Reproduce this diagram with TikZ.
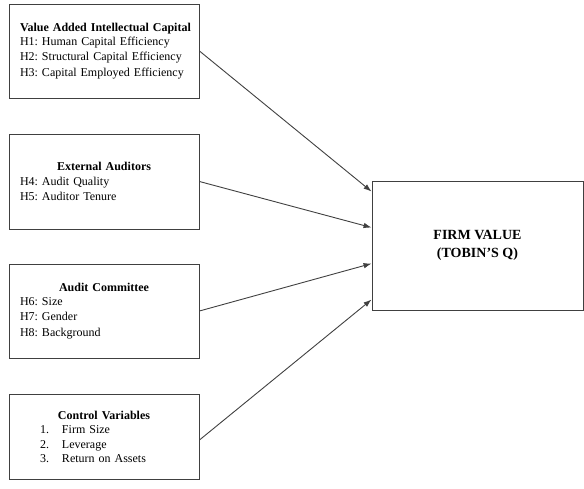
\documentclass[tikz,border=0pt]{standalone}
\usepackage{fontspec}
\setmainfont{Liberation Serif}
\usepackage{tikz}
\usetikzlibrary{shapes, arrows, arrows.meta}
\frenchspacing

\begin{document}
\begin{tikzpicture}[
    x=1pt, y=-1pt,
    boxLine/.style={draw=black!75, line width=0.9pt},
    leftBox/.style={boxLine, text width=168pt, inner xsep=11pt, align=left,
        font=\fontsize{12}{14.3}\selectfont},
    every node/.style={
        text centered,
        }
        ]
    \useasboundingbox (0, 0) rectangle (584, 489);

    \node[leftBox, minimum height=94pt] (vaic) at (104, 51) {\mbox{\textbf{Value Added Intellectual Capital}}\\
        H1: Human Capital Efficiency\\
        H2: Structural Capital Efficiency\\[2pt]
        H3: Capital Employed Efficiency};
    \node[leftBox, minimum height=95pt] (auditors) at (104, 181.5) {{\centering\textbf{External Auditors}\par}
        H4: Audit Quality\\[1pt]
        H5: Auditor Tenure};
    \node[leftBox, minimum height=94pt] (committee) at (104, 311) {{\centering\textbf{Audit Committee}\par}
        H6: Size\\
        H7: Gender\\[2pt]
        H8: Background};
    \node[leftBox, minimum height=85pt] (control) at (104, 437) {{\centering\textbf{Control Variables}\par}
        \hspace*{20pt}\makebox[22pt][l]{1.}Firm Size\\
        \hspace*{20pt}\makebox[22pt][l]{2.}Leverage\\
        \hspace*{20pt}\makebox[22pt][l]{3.}Return on Assets};

    \node[boxLine, minimum width=211pt, minimum height=129pt, align=center,
        font=\fontsize{14}{18}\selectfont\bfseries] (firm) at (477.5, 245.5) {FIRM VALUE\\(TOBIN'S Q)};

    \coordinate (in1) at ([yshift=-11pt]firm.north west);
    \coordinate (in2) at ([yshift=-47pt]firm.north west);
    \coordinate (in3) at ([yshift=-83pt]firm.north west);
    \coordinate (in4) at ([yshift=-119pt]firm.north west);

    \draw[->, >={Latex[length=8pt, width=5.5pt]}, draw=black!75, line width=0.9pt] (vaic.east) -- (in1);
    \draw[->, >={Latex[length=8pt, width=5.5pt]}, draw=black!75, line width=0.9pt] (auditors.east) -- (in2);
    \draw[->, >={Latex[length=8pt, width=5.5pt]}, draw=black!75, line width=0.9pt] (committee.east) -- (in3);
    \draw[->, >={Latex[length=8pt, width=5.5pt]}, draw=black!75, line width=0.9pt] ([yshift=-3pt]control.east) -- (in4);
\end{tikzpicture}
\end{document}
